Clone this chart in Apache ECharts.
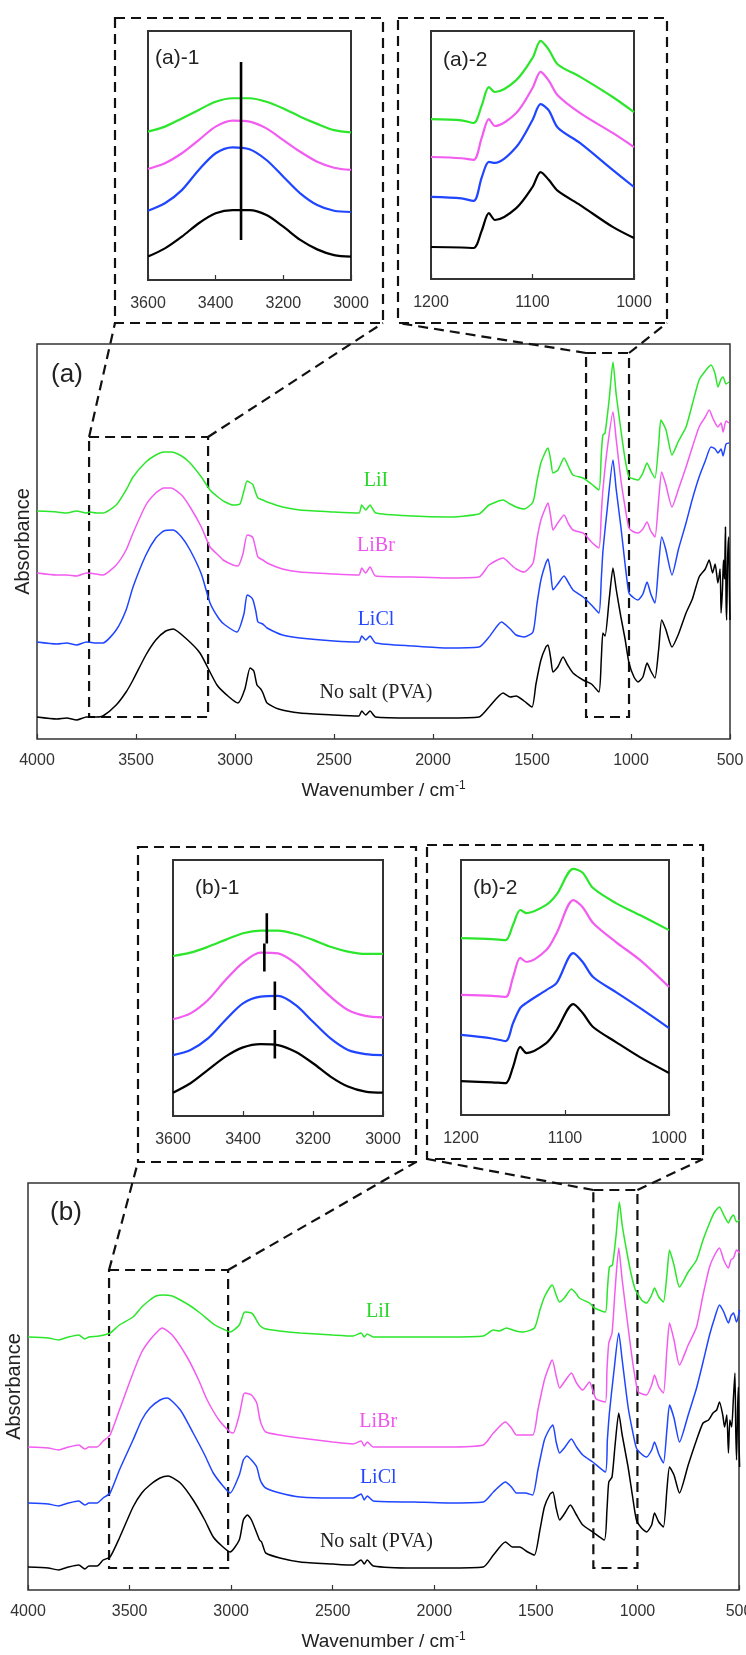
<!DOCTYPE html>
<html>
<head>
<meta charset="utf-8">
<script src="https://cdn.jsdelivr.net/npm/echarts@6/dist/echarts.min.js"></script>
<style>
  html, body { margin: 0; padding: 0; background: #fff; }
  #chart { width: 746px; height: 1655px; }
</style>
</head>
<body>
<div id="chart"></div>
<script>
// colours of the four samples
const GREEN = '#2be62b';
const PINK = '#f25cf0';
const BLUE = '#1f45ff';
const BLACK = '#000000';

// ---- insets: O-H band (3600-3000) and C-O band (1200-1000) ----
const ohWn = [3600, 3550, 3500, 3450, 3400, 3350, 3300, 3250, 3200, 3150, 3100, 3050, 3000];
const a1NoSalt = [94, 127, 174, 228, 268, 281, 281, 261, 214, 161, 123, 100, 94];
const a1LiCl = [278, 308, 361, 442, 509, 533, 525, 482, 415, 348, 301, 278, 273];
const a1LiBr = [446, 469, 509, 562, 616, 640, 636, 609, 562, 515, 475, 451, 442];
const a1LiI = [596, 616, 649, 683, 716, 730, 730, 716, 689, 656, 627, 602, 593];
const a1Mark = [3325, 161, 876]; // wavenumber, from, to

const coWnA = [1200, 1170, 1158, 1150, 1143, 1137, 1116, 1100, 1092, 1084, 1075, 1053, 1021, 1000];
const a2NoSalt = [129, 127, 125, 195, 266, 238, 286, 371, 431, 400, 355, 298, 210, 165];
const a2LiCl = [331, 325, 315, 410, 472, 468, 532, 641, 705, 680, 610, 548, 440, 371];
const a2LiBr = [492, 487, 480, 570, 645, 617, 669, 770, 835, 800, 740, 669, 589, 532];
const a2LiI = [645, 640, 629, 700, 774, 754, 802, 891, 960, 925, 865, 815, 734, 673];

const b1NoSalt = [91, 128, 180, 232, 268, 281, 277, 251, 206, 154, 115, 95, 91];
const b1LiCl = [238, 258, 303, 375, 440, 466, 469, 434, 368, 303, 258, 242, 238];
const b1LiBr = [378, 401, 453, 531, 599, 638, 635, 596, 531, 466, 414, 391, 385];
const b1LiI = [625, 638, 661, 688, 714, 724, 724, 711, 688, 661, 642, 633, 633];
// peak marks: wavenumber, from, to (No salt, LiCl, LiBr, LiI)
const b1Marks = [[3309, 225, 336], [3309, 414, 525], [3339, 564, 674], [3332, 674, 792]];

const coWnB = [1200, 1170, 1157, 1150, 1143, 1137, 1118, 1108, 1092, 1083, 1073, 1051, 1028, 1000];
const b2NoSalt = [133, 128, 125, 188, 267, 243, 282, 333, 435, 400, 345, 286, 227, 165];
const b2LiCl = [314, 300, 290, 360, 420, 440, 490, 518, 635, 600, 541, 482, 420, 341];
const b2LiBr = [471, 467, 463, 540, 616, 600, 647, 714, 843, 815, 753, 678, 608, 502];
const b2LiI = [694, 690, 686, 745, 804, 792, 824, 865, 965, 950, 890, 831, 784, 725];

// ---- full spectra (a): [wavenumber, absorbance (a.u., offset)] ----
const aNoSalt = [[4000,22],[3900,20],[3850,21],[3800,19],[3750,22],[3700,22],[3667,23],[3600,34],[3550,47],[3515,59],[3450,84],[3400,99],[3350,108],[3313,110],[3250,101],[3177,86],[3091,54],[3030,42],[2985,36],[2950,50],[2924,71],[2905,68],[2889,54],[2870,50],[2859,46],[2838,36],[2780,30],[2672,26],[2500,24],[2374,23],[2360,28],[2340,24],[2318,28],[2290,22],[2100,21],[1934,21],[1768,22],[1717,32],[1646,46],[1610,42],[1580,43],[1540,38],[1500,32],[1480,55],[1455,79],[1430,92],[1419,94],[1405,80],[1394,67],[1370,72],[1343,82],[1320,74],[1293,66],[1242,59],[1200,55],[1162,47],[1150,80],[1142,106],[1131,103],[1110,140],[1091,171],[1075,150],[1051,122],[1030,100],[1010,76],[985,62],[965,57],[940,62],[919,76],[900,68],[879,61],[860,90],[845,119],[825,110],[793,92],[760,105],[722,126],[690,140],[656,162],[625,170],[605,179],[588,166],[575,175],[561,156],[550,170],[545,126],[538,150],[533,179],[528,160],[523,212],[520,140],[517,119],[512,180],[507,202],[503,150],[500,119]];
const aLiCl = [[4000,97],[3900,95],[3850,96],[3800,94],[3750,97],[3700,96],[3667,96],[3600,109],[3550,129],[3515,152],[3450,184],[3400,201],[3360,208],[3313,209],[3270,202],[3227,189],[3170,165],[3126,136],[3080,120],[3050,114],[2990,107],[2955,125],[2939,144],[2920,142],[2909,139],[2895,128],[2884,117],[2860,115],[2838,111],[2760,104],[2672,101],[2500,98],[2374,97],[2360,103],[2340,99],[2318,103],[2290,96],[2100,93],[1934,91],[1768,92],[1717,102],[1654,117],[1610,110],[1580,104],[1540,102],[1495,107],[1475,135],[1455,159],[1430,176],[1419,180],[1405,165],[1394,149],[1370,155],[1338,163],[1315,156],[1293,149],[1242,142],[1200,134],[1162,126],[1150,160],[1142,187],[1120,230],[1091,279],[1075,250],[1051,212],[1030,175],[1010,146],[985,141],[965,139],[940,145],[919,157],[900,145],[879,136],[860,175],[845,202],[825,190],[793,164],[760,190],[722,216],[690,240],[656,262],[625,278],[596,292],[575,290],[561,286],[545,290],[535,283],[520,295],[505,296]];
const aLiBr = [[4000,166],[3900,164],[3850,164],[3800,163],[3750,166],[3700,165],[3667,164],[3600,174],[3550,189],[3515,206],[3450,234],[3400,246],[3360,251],[3323,251],[3270,244],[3227,232],[3170,212],[3126,192],[3080,183],[3060,179],[3010,174],[2985,173],[2960,185],[2939,204],[2920,203],[2909,201],[2895,190],[2884,182],[2860,179],[2838,176],[2760,170],[2672,167],[2500,165],[2374,164],[2360,171],[2340,166],[2318,172],[2290,163],[2100,162],[1934,161],[1768,162],[1717,174],[1646,181],[1610,175],[1580,170],[1540,167],[1495,176],[1475,200],[1455,219],[1430,232],[1419,236],[1405,222],[1394,209],[1370,216],[1338,224],[1315,215],[1293,209],[1242,206],[1226,203],[1200,197],[1162,191],[1150,225],[1142,249],[1120,290],[1091,327],[1075,300],[1051,259],[1030,232],[1010,211],[985,207],[965,206],[940,210],[919,217],[900,208],[879,202],[860,240],[845,267],[825,255],[793,232],[760,250],[722,272],[690,292],[656,312],[625,322],[605,329],[585,320],[561,312],[545,316],[535,307],[520,318],[505,316]];
const aLiI = [[4000,228],[3900,227],[3850,226],[3800,228],[3750,226],[3732,227],[3700,226],[3667,226],[3600,234],[3550,249],[3515,262],[3450,277],[3400,284],[3360,287],[3323,287],[3270,283],[3227,276],[3170,262],[3126,249],[3080,241],[3050,237],[3010,234],[2975,235],[2955,248],[2939,258],[2920,256],[2909,254],[2895,246],[2884,241],[2860,239],[2838,237],[2760,232],[2672,229],[2500,227],[2374,226],[2360,234],[2340,229],[2318,234],[2290,226],[2100,223],[1934,222],[1768,225],[1717,234],[1646,239],[1610,235],[1580,232],[1540,230],[1495,237],[1475,258],[1455,276],[1430,288],[1419,291],[1405,278],[1394,266],[1369,269],[1338,281],[1315,272],[1293,264],[1242,261],[1200,255],[1162,249],[1150,285],[1142,304],[1131,306],[1110,340],[1091,377],[1075,345],[1051,309],[1030,280],[1010,262],[985,260],[965,259],[940,266],[919,276],[900,268],[879,261],[860,295],[849,319],[823,309],[793,284],[760,298],[722,312],[690,335],[656,359],[625,368],[596,374],[575,365],[561,352],[545,360],[535,362],[520,355],[505,357]];

// ---- full spectra (b) ----
const bNoSalt = [[4000,23],[3900,22],[3850,20],[3800,23],[3750,25],[3720,21],[3700,24],[3660,24],[3630,30],[3596,33],[3550,52],[3483,83],[3440,97],[3400,105],[3350,112],[3310,114],[3250,107],[3187,90],[3130,70],[3088,53],[3040,43],[3005,38],[2960,50],[2940,70],[2920,75],[2900,70],[2874,57],[2860,50],[2850,48],[2840,42],[2830,37],[2760,32],[2660,28],[2500,26],[2400,25],[2360,30],[2345,26],[2330,30],[2300,24],[2100,22],[1941,22],[1759,23],[1709,35],[1650,48],[1615,43],[1580,43],[1540,38],[1507,35],[1480,60],[1458,83],[1430,96],[1416,98],[1400,82],[1383,70],[1360,76],[1330,85],[1300,75],[1269,65],[1220,58],[1163,50],[1150,80],[1141,108],[1125,113],[1110,145],[1092,177],[1075,155],[1046,123],[1025,95],[1005,70],[980,62],[955,58],[930,65],[916,77],[895,68],[872,63],[855,100],[842,123],[820,115],[793,97],[750,125],[709,150],[677,167],[650,170],[628,177],[610,180],[596,188],[580,175],[571,163],[560,175],[552,137],[545,170],[536,163],[528,190],[520,217],[516,160],[512,130],[507,180],[503,203],[500,150],[497,123]];
const bLiCl = [[4000,87],[3900,86],[3850,84],[3800,87],[3750,89],[3720,85],[3700,87],[3660,87],[3630,92],[3596,97],[3550,120],[3483,150],[3440,170],[3400,182],[3350,190],[3315,192],[3250,180],[3187,157],[3130,135],[3088,117],[3040,104],[3005,97],[2960,115],[2940,130],[2923,134],[2900,130],[2874,123],[2860,112],[2850,107],[2830,102],[2760,97],[2660,93],[2500,92],[2400,92],[2360,96],[2345,90],[2330,94],[2300,89],[2100,88],[1941,87],[1759,88],[1709,98],[1650,108],[1620,103],[1596,97],[1553,97],[1516,95],[1490,120],[1458,150],[1430,162],[1416,165],[1400,148],[1383,137],[1360,142],[1325,151],[1300,143],[1269,135],[1220,128],[1158,118],[1148,150],[1138,177],[1115,220],[1092,257],[1075,230],[1046,183],[1025,160],[1005,142],[980,136],[955,133],[930,140],[916,148],[895,136],[872,127],[855,160],[842,185],[820,172],[793,148],[750,175],[709,202],[677,228],[645,255],[620,272],[596,285],[575,278],[552,267],[540,274],[527,277],[512,268],[497,280]];
const bLiBr = [[4000,143],[3900,142],[3850,140],[3800,143],[3750,145],[3720,141],[3700,143],[3660,143],[3630,149],[3596,155],[3550,180],[3483,217],[3440,238],[3400,250],[3360,259],[3340,262],[3290,255],[3217,233],[3160,210],[3118,190],[3060,170],[3005,158],[2990,157],[2960,175],[2940,195],[2931,197],[2900,195],[2874,187],[2860,172],[2850,165],[2830,158],[2760,155],[2660,152],[2500,148],[2400,146],[2360,149],[2345,144],[2330,148],[2300,143],[2100,143],[1941,143],[1759,145],[1709,157],[1650,168],[1620,162],[1596,155],[1516,155],[1490,180],[1458,210],[1430,226],[1419,230],[1400,214],[1383,202],[1360,208],[1325,217],[1300,207],[1269,200],[1236,208],[1220,200],[1203,191],[1158,188],[1150,220],[1141,247],[1125,257],[1110,300],[1092,342],[1075,310],[1046,263],[1025,230],[1005,205],[995,198],[975,196],[955,195],[930,205],[916,215],[895,203],[872,197],[855,240],[842,267],[820,250],[793,225],[750,245],[709,263],[677,295],[645,323],[620,335],[596,342],[575,330],[552,322],[540,330],[527,332],[512,340],[497,337]];
const bLiI = [[4000,253],[3900,252],[3850,250],[3800,253],[3750,255],[3720,251],[3700,253],[3650,254],[3596,257],[3550,265],[3483,273],[3440,283],[3400,290],[3370,294],[3335,295],[3290,294],[3250,290],[3200,284],[3153,277],[3080,265],[3040,261],[3005,258],[2960,265],[2940,276],[2931,278],[2900,277],[2890,275],[2870,268],[2857,264],[2830,261],[2760,259],[2660,257],[2500,255],[2400,254],[2360,257],[2345,253],[2330,256],[2300,253],[2200,253],[1941,253],[1759,254],[1709,260],[1680,259],[1645,262],[1600,259],[1562,258],[1507,262],[1480,280],[1458,293],[1430,303],[1419,305],[1400,295],[1384,288],[1360,292],[1325,301],[1300,296],[1286,292],[1236,287],[1212,282],[1158,278],[1148,300],[1138,323],[1123,325],[1105,355],[1089,388],[1075,365],[1054,340],[1030,315],[1010,300],[995,295],[975,289],[955,287],[930,295],[916,302],[895,293],[872,288],[855,315],[842,340],[820,325],[793,303],[750,318],[709,330],[677,350],[645,367],[620,378],[596,383],[575,375],[552,367],[540,372],[527,375],[512,368],[497,370]];

const zip = (xs, ys) => xs.map((x, i) => [x, ys[i]]);
const FONT = '"Liberation Sans", Arial, sans-serif';

const chart = echarts.init(document.getElementById('chart'));

function line(data, color, idx, width) {
  return {
    type: 'line', xAxisIndex: idx, yAxisIndex: idx, data: data,
    symbol: 'none', silent: true, smooth: idx === 2 || idx === 5 ? 0.2 : 0.3,
    lineStyle: { color: color, width: width }
  };
}
function mark(m, idx) {
  return {
    type: 'line', xAxisIndex: idx, yAxisIndex: idx, symbol: 'none', silent: true,
    data: [[m[0], m[1]], [m[0], m[2]]],
    lineStyle: { color: '#000', width: 2.6 }
  };
}

const grids = [
  { left: 148, top: 31, width: 203, height: 249 },   // (a)-1
  { left: 431, top: 31, width: 203, height: 248 },   // (a)-2
  { left: 37, top: 344, width: 693, height: 395 },   // (a)
  { left: 173, top: 860, width: 210, height: 256 },  // (b)-1
  { left: 461, top: 860, width: 208, height: 255 },  // (b)-2
  { left: 28, top: 1183, width: 711, height: 407 }   // (b)
].map((g, i) => Object.assign(g, {
  show: true, borderColor: '#333', borderWidth: (i === 2 || i === 5) ? 1.5 : 2,
  backgroundColor: 'transparent', containLabel: false, outerBoundsMode: 'none'
}));

function xAx(idx, min, max, interval, main) {
  return {
    gridIndex: idx, type: 'value', inverse: true, min: min, max: max, interval: interval,
    axisLine: { show: false },
    axisTick: { show: true, inside: true, length: 5, lineStyle: { color: '#333', width: 1.2 } },
    axisLabel: {
      fontFamily: FONT, fontSize: 16, color: '#333', margin: main ? 14 : 16,
      formatter: v => String(v), alignMinLabel: 'center', alignMaxLabel: 'center'
    },
    splitLine: { show: false },
    name: main ? 'Wavenumber / cm{sup|-1}' : '',
    nameLocation: 'middle', nameGap: 41,
    nameTextStyle: {
      fontFamily: FONT, fontSize: 19, color: '#222', lineHeight: 22,
      rich: { sup: { fontFamily: FONT, fontSize: 12, color: '#222', verticalAlign: 'top', lineHeight: 22 } }
    }
  };
}
function yAx(idx, max, main) {
  return {
    gridIndex: idx, type: 'value', min: 0, max: max, show: true,
    axisLine: { show: false }, axisTick: { show: false }, axisLabel: { show: false },
    splitLine: { show: false },
    name: main ? 'Absorbance' : '', nameLocation: 'middle', nameGap: 4, nameRotate: 90,
    nameTextStyle: { fontFamily: FONT, fontSize: 20, color: '#222' }
  };
}

const option = {
  animation: false,
  backgroundColor: '#fff',
  grid: grids,
  xAxis: [
    xAx(0, 3000, 3600, 200, false),
    xAx(1, 1000, 1200, 100, false),
    xAx(2, 500, 4000, 500, true),
    xAx(3, 3000, 3600, 200, false),
    xAx(4, 1000, 1200, 100, false),
    xAx(5, 500, 4000, 500, true)
  ],
  yAxis: [yAx(0, 1000), yAx(1, 1000), yAx(2, 395, true), yAx(3, 1000), yAx(4, 1000), yAx(5, 407, true)],
  series: [
    line(zip(ohWn, a1NoSalt), BLACK, 0, 2.2), line(zip(ohWn, a1LiCl), BLUE, 0, 2.2),
    line(zip(ohWn, a1LiBr), PINK, 0, 2.2), line(zip(ohWn, a1LiI), GREEN, 0, 2.2),
    mark(a1Mark, 0),
    line(zip(coWnA, a2NoSalt), BLACK, 1, 2.2), line(zip(coWnA, a2LiCl), BLUE, 1, 2.2),
    line(zip(coWnA, a2LiBr), PINK, 1, 2.2), line(zip(coWnA, a2LiI), GREEN, 1, 2.2),
    line(aNoSalt, BLACK, 2, 1.5), line(aLiCl, BLUE, 2, 1.5),
    line(aLiBr, PINK, 2, 1.5), line(aLiI, GREEN, 2, 1.5),
    line(zip(ohWn, b1NoSalt), BLACK, 3, 2.2), line(zip(ohWn, b1LiCl), BLUE, 3, 2.2),
    line(zip(ohWn, b1LiBr), PINK, 3, 2.2), line(zip(ohWn, b1LiI), GREEN, 3, 2.2),
    ...b1Marks.map(m => mark(m, 3)),
    line(zip(coWnB, b2NoSalt), BLACK, 4, 2.2), line(zip(coWnB, b2LiCl), BLUE, 4, 2.2),
    line(zip(coWnB, b2LiBr), PINK, 4, 2.2), line(zip(coWnB, b2LiI), GREEN, 4, 2.2),
    line(bNoSalt, BLACK, 5, 1.5), line(bLiCl, BLUE, 5, 1.5),
    line(bLiBr, PINK, 5, 1.5), line(bLiI, GREEN, 5, 1.5)
  ]
};
chart.setOption(option);

// ---- annotations: dashed zoom boxes, connectors, labels ----
const DASH = { stroke: '#111', lineWidth: 2.2, lineDash: [10, 6], fill: 'none' };
const px = (g, x, y) => chart.convertToPixel({ gridIndex: g }, [x, y]);
const gfx = [];

function dashRect(x1, y1, x2, y2) {
  gfx.push({ type: 'rect', silent: true, shape: { x: x1, y: y1, width: x2 - x1, height: y2 - y1 }, style: DASH });
}
function dashLine(p, q) {
  gfx.push({ type: 'line', silent: true, shape: { x1: p[0], y1: p[1], x2: q[0], y2: q[1] }, style: DASH });
}
function txt(x, y, s, size, color, family, align) {
  gfx.push({
    type: 'text', silent: true, x: x, y: y,
    style: { text: s, fill: color, font: size + 'px ' + family, textAlign: align || 'center', textVerticalAlign: 'middle' }
  });
}

// outer boxes around the insets
const insetBoxes = [[115, 18, 383, 323], [398, 18, 667, 323], [138, 847, 416, 1162], [427, 845, 703, 1159]];
insetBoxes.forEach(b => dashRect(b[0], b[1], b[2], b[3]));

// zoomed regions in the full spectra: [grid, wnLeft, wnRight, bottom, top, insetBox]
const zoomRegions = [
  [2, 3737, 3136, 22, 302, 0], [2, 1227, 1010, 22, 386, 1],
  [5, 3601, 3015, 22, 320, 2], [5, 1217, 1000, 22, 400, 3]
];
zoomRegions.forEach(z => {
  const tl = px(z[0], z[1], z[4]);
  const br = px(z[0], z[2], z[3]);
  dashRect(tl[0], tl[1], br[0], br[1]);
  const b = insetBoxes[z[5]];
  dashLine([tl[0], tl[1]], [b[0], b[3]]);
  dashLine([br[0], tl[1]], [b[2], b[3]]);
});

// sample labels in the full spectra
const SERIF = '"Liberation Serif", "Times New Roman", serif';
const labelColors = ['#222', '#2448ff', '#ee55ee', '#2ad82a'];
const sampleNames = ['No salt (PVA)', 'LiCl', 'LiBr', 'LiI'];
const labelAnchors = [
  [2, [[2288, 46], [2288, 119], [2288, 193], [2288, 258]]],
  [5, [[2285, 48], [2276, 112], [2276, 168], [2276, 278]]]
];
labelAnchors.forEach(a => {
  a[1].forEach((p, i) => {
    const q = px(a[0], p[0], p[1]);
    txt(q[0], q[1], sampleNames[i], 20, labelColors[i], SERIF);
  });
});

// panel and inset titles
txt(67, 375, '(a)', 26, '#222', FONT);
txt(66, 1213, '(b)', 26, '#222', FONT);
txt(155, 58, '(a)-1', 21, '#222', FONT, 'left');
txt(443, 60, '(a)-2', 21, '#222', FONT, 'left');
txt(195, 888, '(b)-1', 21, '#222', FONT, 'left');
txt(473, 888, '(b)-2', 21, '#222', FONT, 'left');

chart.setOption({ graphic: { elements: gfx } });
</script>
</body>
</html>
